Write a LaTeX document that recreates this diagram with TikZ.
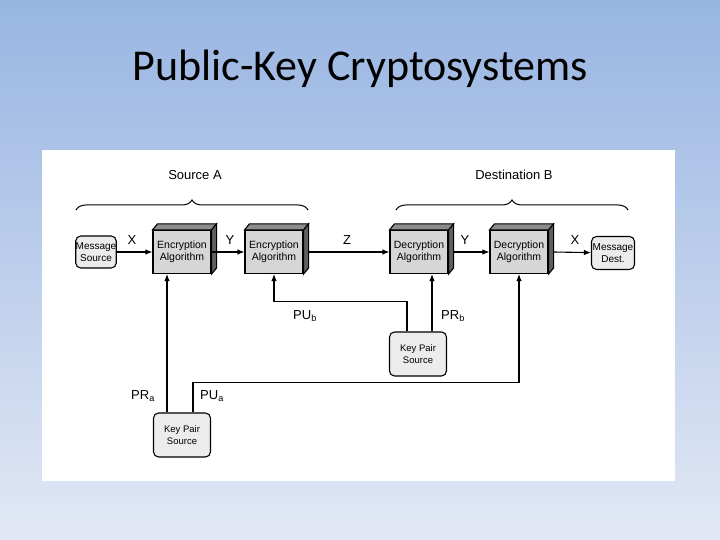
\documentclass[tikz,border=0pt]{standalone}
\usepackage{fontspec}
\setmainfont{Liberation Sans}
\newfontfamily\titlefont{Carlito}
\usetikzlibrary{arrows.meta,calc,decorations.pathreplacing}

\definecolor{bgtop}{RGB}{152,181,226}
\definecolor{bgbot}{RGB}{226,232,245}
\definecolor{facegray}{RGB}{214,214,214}
\definecolor{topgray}{RGB}{140,140,140}
\definecolor{sidegray}{RGB}{95,95,95}

\tikzset{
  algbox/.style={draw, line width=1.1pt, fill=facegray, minimum width=58pt, minimum height=43pt,
    inner sep=0pt, align=center, font=\fontsize{10.5}{12.5}\selectfont},
  endbox/.style={draw, line width=1.1pt, rounded corners=5pt, fill=gray!15, inner sep=0pt,
    align=center, font=\fontsize{10}{12}\selectfont},
  keybox/.style={endbox, minimum width=57pt, minimum height=44pt, font=\fontsize{9.5}{12}\selectfont},
  lbl/.style={font=\fontsize{13}{15}\selectfont},
  arr/.style={line width=1.1pt, -{Latex[length=7pt,width=5.5pt]}},
  brc/.style={line width=1pt, decorate, decoration={brace, amplitude=10pt}}
}

\begin{document}
\begin{tikzpicture}[x=1pt, y=1pt]
    \useasboundingbox (0,0) rectangle (720,540);
    % slide background and panel
    \shade[top color=bgtop, bottom color=bgbot] (0,0) rectangle (720,540);
    \fill[white] (42,59) rectangle (675,390);
    \node (title) at (360,471) {\titlefont\fontsize{44}{52}\selectfont Public-Key Cryptosystems};

    % top row
    \node[endbox, minimum width=40pt, minimum height=32pt] (msrc) at (96,288) {Message\\Source};
    \node[algbox] (enc1) at (182,288) {Encryption\\Algorithm};
    \node[algbox] (enc2) at (274,288) {Encryption\\Algorithm};
    \node[algbox] (dec1) at (419,288) {Decryption\\Algorithm};
    \node[algbox] (dec2) at (519,288) {Decryption\\Algorithm};
    \node[endbox, minimum width=43pt, minimum height=33pt] (mdst) at (613,287) {Message\\Dest.};

    % 3D faces of the algorithm boxes
    \foreach \n in {enc1,enc2,dec1,dec2} {
        \filldraw[line width=1.1pt, fill=topgray] (\n.north west) -- ++(5,6) -- ($(\n.north east)+(5,6)$) -- (\n.north east) -- cycle;
        \filldraw[line width=1.1pt, fill=sidegray] (\n.north east) -- ++(5,6) -- ($(\n.south east)+(5,6)$) -- (\n.south east) -- cycle;
      }

    % key pair sources
    \node[keybox] (kpb) at (418,186) {Key Pair\\Source};
    \node[keybox] (kpa) at (182,105) {Key Pair\\Source};

    % message path
    \draw[arr] (msrc) -- (enc1);
    \draw[arr] (enc1) -- (enc2);
    \draw[arr] ($(enc2.east)+(5,0)$) -- (dec1);
    \draw[arr] ($(dec1.east)+(5,0)$) -- (dec2);
    \draw[arr] ($(dec2.east)+(5,0)$) -- (mdst);

    \node[lbl] (x1) at (132,300) {X};
    \node[lbl] (y1) at (230,300) {Y};
    \node[lbl] (z1) at (347,300) {Z};
    \node[lbl] (y2) at (465,300) {Y};
    \node[lbl] (x2) at (575,300) {X};

    % keys
    \draw[arr] ([xshift=-15pt]kpa.north) -- ([xshift=-15pt]kpa.north |- enc1.south);
    \draw[arr] ([xshift=11pt]kpa.north) -- ++(0,30) -| (dec2.south);
    \draw[arr] ([xshift=-11pt]kpb.north) -- ++(0,30) -| (enc2.south);
    \draw[arr] ([xshift=14pt]kpb.north) -- ([xshift=14pt]kpb.north |- dec1.south);

    \node[lbl] (pra) at (143,144) {PR\textsubscript{a}};
    \node[lbl] (pua) at (212,144) {PU\textsubscript{a}};
    \node[lbl] (pub) at (305,224) {PU\textsubscript{b}};
    \node[lbl] (prb) at (453,224) {PR\textsubscript{b}};

    % braces
    \draw[brc] (76,330) -- (308,330);
    \draw[brc] (396,330) -- (628,330);
    \node[lbl] (srca) at (195,365) {Source A};
    \node[lbl] (dstb) at (514,365) {Destination B};
  \end{tikzpicture}
\end{document}
